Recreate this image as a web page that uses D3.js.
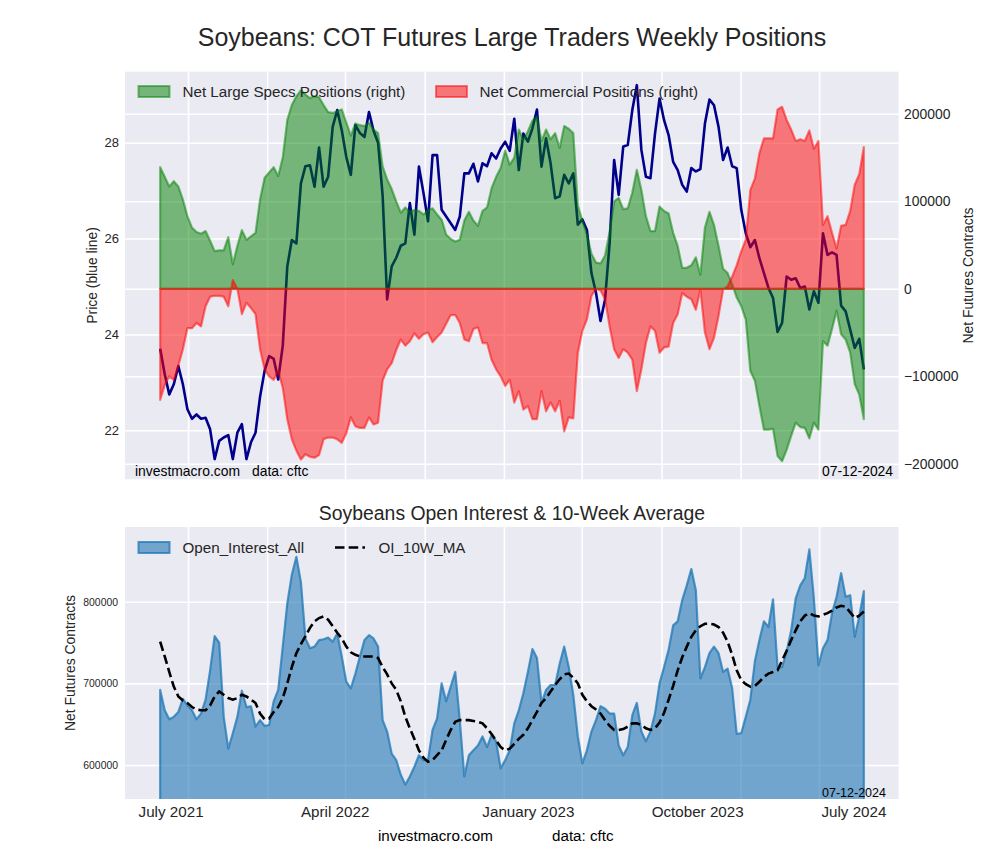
<!DOCTYPE html>
<html><head><meta charset="utf-8">
<script src="https://cdn.jsdelivr.net/npm/d3@7"></script>
<style>
body{margin:0;background:#fff}
text{font-family:"Liberation Sans",Arial,Helvetica,sans-serif;}
</style>
</head><body>
<svg id="chart" width="1000" height="860"></svg>
<script>
// ---------------- DATA ----------------
const startDate = "2021-07-20"; // first weekly report (Tuesday)
const price = [
23.70,23.17,22.75,22.96,23.34,22.96,22.44,22.24,22.33,22.24,
22.26,22.02,21.40,21.78,21.85,21.90,21.40,21.95,22.13,21.40,
21.75,21.95,22.70,23.24,23.55,23.49,23.06,23.76,25.42,25.97,
25.90,27.15,27.51,27.53,27.08,27.90,27.08,27.29,28.33,28.68,
28.26,27.70,27.33,28.37,28.20,28.12,28.64,28.25,28.00,26.90,
24.73,25.42,25.60,25.85,25.90,26.74,26.08,27.50,26.95,26.36,
27.74,27.74,26.60,26.46,26.32,26.18,26.46,27.36,27.36,27.56,
27.19,27.57,27.51,27.78,27.67,27.88,28.02,27.83,28.50,27.43,
28.19,28.02,28.30,28.69,27.50,28.09,27.57,26.84,26.88,27.33,
27.15,27.36,26.29,26.40,26.18,25.28,24.87,24.28,24.73,25.90,
27.64,26.91,27.92,27.95,28.68,29.20,27.85,27.29,27.26,28.19,
28.92,28.47,28.16,27.60,27.43,27.12,26.98,27.47,27.40,27.45,
28.40,28.90,28.78,28.33,27.64,27.90,27.51,27.47,26.60,26.11,
25.82,25.97,25.59,25.28,24.97,24.76,24.05,24.24,25.21,25.14,
25.17,24.97,25.00,24.52,24.90,24.66,26.11,25.66,25.71,25.66,
24.60,24.48,24.10,23.72,23.91,23.27];
// net large speculator positions, thousands of contracts
const specsK = [
139,128,117,123,117,102,83,70,65,63,
66,55,43,44,44,59,28,49,67,56,
60,64,102,127,133,139,129,150,193,210,
220,227,222,218,220,219,210,202,201,203,
205,190,175,189,187,186,190,182,178,140,
125,114,100,87,93,88,90,89,85,90,
92,85,79,62,57,54,56,78,88,78,
72,89,93,115,128,138,158,142,150,182,
170,180,192,197,169,182,171,178,161,186,
183,178,95,78,62,40,30,29,38,65,
100,104,91,92,110,136,113,83,66,66,
94,89,86,64,49,24,24,27,36,16,
70,88,73,49,23,18,5,-10,-20,-35,
-94,-105,-134,-161,-161,-160,-191,-197,-184,-168,
-153,-158,-159,-171,-153,-161,-60,-65,-46,-25,
-52,-58,-73,-109,-121,-149];
// net commercial positions, thousands of contracts
const commK = [
-127,-110,-100,-104,-88,-69,-45,-45,-39,-43,
-20,-9,-8,-8,-9,-20,10,0,-29,-16,
-22,-29,-69,-92,-100,-104,-94,-113,-149,-172,
-185,-195,-189,-192,-193,-190,-172,-170,-170,-172,
-176,-165,-147,-157,-159,-159,-147,-155,-153,-105,
-92,-85,-70,-58,-65,-60,-51,-57,-52,-50,
-61,-55,-50,-40,-30,-30,-39,-58,-60,-46,
-44,-62,-62,-81,-92,-100,-111,-104,-130,-117,
-138,-134,-149,-149,-117,-140,-130,-140,-128,-163,
-147,-148,-73,-48,-35,-8,0,-2,-12,-43,
-69,-79,-69,-73,-81,-117,-92,-62,-43,-48,
-73,-67,-66,-39,-29,-5,-9,-12,-24,-1,
-50,-69,-56,-31,-1,3,14,27,43,56,
113,126,155,172,172,172,205,208,193,182,
169,171,169,181,160,169,73,83,64,46,
72,73,89,119,131,162];
// open interest, thousands of contracts
const oiK = [
692,667,656,659,665,681,673,667,656,663,
680,716,758,750,659,620,639,659,691,671,
672,647,655,648,649,678,692,745,798,833,
855,824,755,743,745,753,754,756,751,761,
733,702,694,712,733,753,759,755,745,655,
641,614,606,588,576,586,598,612,606,606,
643,657,700,678,696,714,655,586,612,618,
624,635,622,637,629,596,606,618,651,667,
688,714,742,731,676,692,698,698,724,745,
720,686,635,602,618,641,655,672,669,663,
663,624,612,622,661,676,641,629,641,663,
700,720,741,771,776,802,820,840,814,706,
720,737,745,737,714,718,694,638,639,659,
680,727,753,776,769,803,720,720,739,765,
804,820,829,864,804,722,743,753,786,806,
835,806,808,757,782,813];
// 10-week average of open interest, thousands
const maK = [
751,733,714,696,684,679,676,671,668,667,
667,673,684,690,686,682,680,682,686,684,
680,676,663,656,657,665,671,682,700,720,
737,748,758,768,776,780,782,778,770,762,
755,745,738,735,733,733,733,733,731,720,
711,700,692,678,659,645,632,618,609,604,
606,612,618,631,643,653,655,655,655,654,
653,651,645,638,630,622,618,620,626,632,
637,645,655,665,676,682,690,698,705,711,
712,707,700,686,678,672,668,663,655,648,
643,643,644,647,651,651,649,645,643,645,
652,664,680,697,716,732,745,757,765,770,
773,773,772,769,762,751,735,716,704,699,
696,697,702,708,712,714,716,728,740,753,
765,776,783,786,783,782,784,786,789,793,
795,794,787,780,783,788];

const priceTicks = [22,24,26,28];
const netTicks = [-200000,-100000,0,100000,200000];
const oiTicks = [600000,700000,800000];
const xLabels = ["July 2021","April 2022","January 2023","October 2023","July 2024"];
const xLabelDates = ["2021-08-05","2022-04-15","2023-02-07","2023-10-26","2024-06-23"];

// ---------------- LAYOUT ----------------
const L = 125, R = 899;
const T1 = 71.7, B1 = 479.3;
const T2 = 527, B2 = 799;
const BG = "#EAEAF2", INK = "#262626";
const FONT = '"Liberation Sans", Arial, Helvetica, sans-serif';

const svg = d3.select("#chart");
svg.append("rect").attr("width",1000).attr("height",860).attr("fill","#fff");

const parse = d3.utcParse("%Y-%m-%d");
const d0 = parse(startDate);
const dates = price.map((_, i) => d3.utcDay.offset(d0, 7 * i));
const dEnd = dates[dates.length - 1];
const pad = (dEnd - d0) * 0.05;
const x = d3.scaleUtc().domain([new Date(+d0 - pad), new Date(+dEnd + pad)]).range([L, R]);
const gridDates = d3.utcMonth.every(4).range(x.domain()[0], x.domain()[1]);

const yP = d3.scaleLinear().domain([20.978, 29.481]).range([B1, T1]);
const yN = d3.scaleLinear().domain([-217714, 248114]).range([B1, T1]);
const yO = d3.scaleLinear().domain([558400, 891500]).range([B2, T2]);

const specs = specsK.map(v => v * 1000);
const comm = commK.map(v => v * 1000);
const oi = oiK.map(v => v * 1000);
const ma = maK.map(v => v * 1000);

// clip paths
const defs = svg.append("defs");
defs.append("clipPath").attr("id","clipTop").append("rect")
  .attr("x",L).attr("y",T1).attr("width",R-L).attr("height",B1-T1);
defs.append("clipPath").attr("id","clipBot").append("rect")
  .attr("x",L).attr("y",T2).attr("width",R-L).attr("height",B2-T2);

// backgrounds
svg.append("rect").attr("x",L).attr("y",T1).attr("width",R-L).attr("height",B1-T1).attr("fill",BG);
svg.append("rect").attr("x",L).attr("y",T2).attr("width",R-L).attr("height",B2-T2).attr("fill",BG);

function styleAxis(g, size) {
  g.select(".domain").remove();
  g.selectAll(".tick line").attr("stroke","#fff").attr("stroke-width",1.6);
  g.attr("font-family", FONT).attr("font-size", size);
  g.selectAll(".tick text").attr("fill", INK);
}

// ----- TOP PANEL grids/axes -----
const gxTop = svg.append("g").attr("transform",`translate(0,${B1})`)
  .call(d3.axisBottom(x).tickValues(gridDates).tickSize(-(B1-T1)).tickFormat(""));
styleAxis(gxTop, 10);

const gyL = svg.append("g").attr("transform",`translate(${L},0)`)
  .call(d3.axisLeft(yP).tickValues(priceTicks).tickSize(-(R-L)).tickPadding(6).tickFormat(d3.format("d")));
styleAxis(gyL, 13);

const gyR = svg.append("g").attr("transform",`translate(${R},0)`)
  .call(d3.axisRight(yN).tickValues(netTicks).tickSize(-(R-L)).tickPadding(5)
    .tickFormat(d => d < 0 ? "\u2212" + Math.abs(d) : String(d)));
styleAxis(gyR, 13.9);

// price line (drawn beneath the position fills)
const gTop = svg.append("g").attr("clip-path","url(#clipTop)");
gTop.append("path").datum(price)
  .attr("d", d3.line().x((d,i) => x(dates[i])).y(d => yP(d)))
  .attr("fill","none").attr("stroke","#00008B").attr("stroke-width",2.6)
  .attr("stroke-linejoin","round");

const areaNet = vals => d3.area().x((d,i) => x(dates[i])).y0(yN(0)).y1(d => yN(d))(vals);
gTop.append("path").attr("d", areaNet(specs))
  .attr("fill","green").attr("fill-opacity",0.5)
  .attr("stroke","green").attr("stroke-opacity",0.5).attr("stroke-width",2.2).attr("stroke-linejoin","round");
gTop.append("path").attr("d", areaNet(comm))
  .attr("fill","red").attr("fill-opacity",0.5)
  .attr("stroke","red").attr("stroke-opacity",0.5).attr("stroke-width",2.2).attr("stroke-linejoin","round");

// ----- BOTTOM PANEL -----
const gxBot = svg.append("g").attr("transform",`translate(0,${B2})`)
  .call(d3.axisBottom(x).tickValues(gridDates).tickSize(-(B2-T2)).tickFormat(""));
styleAxis(gxBot, 10);

const gyO = svg.append("g").attr("transform",`translate(${L},0)`)
  .call(d3.axisLeft(yO).tickValues(oiTicks).tickSize(-(R-L)).tickPadding(7).tickFormat(d3.format("d")));
styleAxis(gyO, 10.4);

const gBot = svg.append("g").attr("clip-path","url(#clipBot)");
gBot.append("path").datum(oi)
  .attr("d", d3.area().x((d,i) => x(dates[i])).y0(yO(0)).y1(d => yO(d)))
  .attr("fill","#1f77b4").attr("fill-opacity",0.6)
  .attr("stroke","#1f77b4").attr("stroke-opacity",0.75).attr("stroke-width",2.2).attr("stroke-linejoin","round");
gBot.append("path").datum(ma)
  .attr("d", d3.line().x((d,i) => x(dates[i])).y(d => yO(d)))
  .attr("fill","none").attr("stroke","#000").attr("stroke-width",2.6)
  .attr("stroke-dasharray","9.5,4.2");

// x labels on bottom panel
const gxLab = svg.append("g").attr("transform",`translate(0,${B2})`)
  .call(d3.axisBottom(x).tickValues(xLabelDates.map(parse)).tickSize(0).tickPadding(7.6)
    .tickFormat((d,i) => xLabels[i]));
gxLab.select(".domain").remove();
gxLab.attr("font-family", FONT).attr("font-size", 15.2);
gxLab.selectAll(".tick text").attr("fill", INK);

// ----- TEXTS -----
function txt(s, xx, yy, size, anchor, rot) {
  const t = svg.append("text").text(s).attr("font-size", size).attr("fill", INK)
    .attr("text-anchor", anchor || "start");
  if (rot) t.attr("transform", `translate(${xx},${yy}) rotate(${rot})`);
  else t.attr("x", xx).attr("y", yy);
  return t;
}
txt("Soybeans: COT Futures Large Traders Weekly Positions", (L+R)/2, 46, 25, "middle");
txt("Soybeans Open Interest & 10-Week Average", (L+R)/2, 520, 19.4, "middle");
txt("Price (blue line)", 97, (T1+B1)/2, 13.9, "middle", -90);
txt("Net Futures Contracts", 973, (T1+B1)/2, 13.9, "middle", -90);
txt("Net Futures Contracts", 75, (T2+B2)/2, 13.9, "middle", -90);

txt("investmacro.com", 135, 475.5, 13.9, "start").attr("fill","#000");
txt("data: cftc", 252, 475.5, 13.9, "start").attr("fill","#000");
txt("07-12-2024", 822, 475.5, 13.9, "start").attr("fill","#000");
txt("07-12-2024", 822, 797, 12.5, "start").attr("fill","#000");
txt("investmacro.com", 378, 841, 15.2, "start").attr("fill","#000");
txt("data: cftc", 552, 841, 15.2, "start").attr("fill","#000");

// legends
const lg = svg.append("g");
lg.append("rect").attr("x",138.5).attr("y",86).attr("width",31).attr("height",11)
  .attr("fill","green").attr("fill-opacity",0.5).attr("stroke","green").attr("stroke-opacity",0.5).attr("stroke-width",2);
txt("Net Large Specs Positions (right)", 182.5, 97, 15.2, "start");
lg.append("rect").attr("x",436).attr("y",86).attr("width",31).attr("height",11)
  .attr("fill","red").attr("fill-opacity",0.5).attr("stroke","red").attr("stroke-opacity",0.5).attr("stroke-width",2);
txt("Net Commercial Positions (right)", 479.5, 97, 15.2, "start");

lg.append("rect").attr("x",138.5).attr("y",542).attr("width",31).attr("height",11)
  .attr("fill","#1f77b4").attr("fill-opacity",0.6).attr("stroke","#1f77b4").attr("stroke-opacity",0.75).attr("stroke-width",2);
txt("Open_Interest_All", 182.5, 553, 15.2, "start");
lg.append("line").attr("x1",335).attr("x2",365).attr("y1",547.5).attr("y2",547.5)
  .attr("stroke","#000").attr("stroke-width",2.6).attr("stroke-dasharray","9.5,4.2");
txt("OI_10W_MA", 378.5, 553, 15.2, "start");
</script>
</body></html>
